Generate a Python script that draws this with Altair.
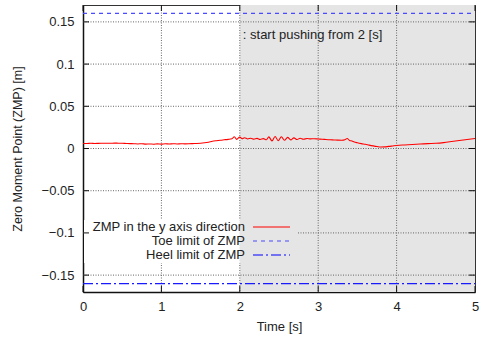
import altair as alt
import pandas as pd

# ZMP trajectory (time [s], ZMP y [m])
time_s = [0.00, 0.05, 0.10, 0.15, 0.20, 0.25, 0.30, 0.35, 0.40, 0.45, 0.50, 0.55, 0.60, 0.65,
          0.70, 0.75, 0.80, 0.85, 0.90, 0.95, 1.00, 1.05, 1.10, 1.15, 1.20, 1.25, 1.30, 1.35,
          1.40, 1.45, 1.50, 1.55, 1.60, 1.65, 1.70, 1.75, 1.80, 1.85, 1.90, 1.93, 1.96, 2.00,
          2.03, 2.06, 2.10, 2.14, 2.18, 2.22, 2.26, 2.30, 2.34, 2.37, 2.41, 2.45, 2.49, 2.53,
          2.57, 2.61, 2.65, 2.69, 2.73, 2.77, 2.81, 2.86, 2.90, 2.95, 3.00, 3.05, 3.10, 3.15,
          3.20, 3.25, 3.30, 3.34, 3.37, 3.40, 3.43, 3.46, 3.50, 3.55, 3.60, 3.65, 3.70, 3.75,
          3.80, 3.85, 3.90, 3.95, 4.00, 4.10, 4.20, 4.30, 4.40, 4.50, 4.60, 4.70, 4.80, 4.90, 5.00]
zmp_y = [0.0060, 0.0060, 0.0062, 0.0060, 0.0061, 0.0062, 0.0063, 0.0062, 0.0064, 0.0063, 0.0062,
         0.0060, 0.0058, 0.0057, 0.0054, 0.0057, 0.0052, 0.0054, 0.0051, 0.0055, 0.0052, 0.0056,
         0.0053, 0.0057, 0.0054, 0.0056, 0.0055, 0.0056, 0.0058, 0.0060, 0.0063, 0.0068, 0.0075,
         0.0085, 0.0092, 0.0098, 0.0103, 0.0108, 0.0115, 0.0140, 0.0108, 0.0135, 0.0115, 0.0128,
         0.0113, 0.0122, 0.0110, 0.0120, 0.0107, 0.0117, 0.0103, 0.0138, 0.0090, 0.0142, 0.0092,
         0.0140, 0.0097, 0.0132, 0.0102, 0.0126, 0.0106, 0.0122, 0.0110, 0.0118, 0.0114, 0.0116,
         0.0112, 0.0110, 0.0106, 0.0103, 0.0101, 0.0099, 0.0098, 0.0104, 0.0118, 0.0096, 0.0090,
         0.0078, 0.0068, 0.0058, 0.0050, 0.0040, 0.0031, 0.0023, 0.0017, 0.0019, 0.0025, 0.0030,
         0.0035, 0.0042, 0.0048, 0.0053, 0.0058, 0.0062, 0.0070, 0.0082, 0.0095, 0.0107, 0.0118]

toe_limit = 0.16
heel_limit = -0.16
push_start = 2.0
t_end = 5.0
x_ticks = [0, 1, 2, 3, 4, 5]
y_ticks = [-0.15, -0.1, -0.05, 0, 0.05, 0.1, 0.15]
legend_labels = ["ZMP in the y axis direction", "Toe limit of ZMP", "Heel limit of ZMP"]
legend_colors = ["#ff0000", "#4a4aff", "#0000ff"]
legend_dashes = [[1, 0], [4, 4], [10, 3, 2, 3]]
annotation = ": start pushing from 2 [s]"

FONT = "Liberation Sans"
W, H = 392, 287

xs = alt.Scale(domain=[0, 5], nice=False, zero=False)
ys = alt.Scale(domain=[-0.17, 0.17], nice=False, zero=False)

line_df = pd.DataFrame({"t": time_s, "z": zmp_y})
limits_df = pd.DataFrame({"t0": [0, 0], "t1": [t_end, t_end], "z": [toe_limit, heel_limit],
                          "kind": ["toe", "heel"]})
shade_df = pd.DataFrame({"a": [push_start], "b": [t_end]})
xg_df = pd.DataFrame({"v": x_ticks})
yg_df = pd.DataFrame({"v": y_ticks})
one = pd.DataFrame({"k": [0]})

x_axis = alt.Axis(title="Time [s]", values=x_ticks, format="d", labelAlign="center",
                  labelFlush=False, labelPadding=8, titlePadding=7, titleFontSize=13,
                  titleFontWeight="normal", labelFontWeight="normal")
y_axis = alt.Axis(title="Zero Moment Point (ZMP) [m]", values=y_ticks, format="~g",
                  labelPadding=9, titlePadding=17, titleFontSize=12.5,
                  titleFontWeight="normal", labelFontWeight="normal")

shade = alt.Chart(shade_df).mark_rect(color="#e5e5e5").encode(
    x=alt.X("a:Q", scale=xs, axis=x_axis),
    x2="b:Q",
    y=alt.value(0), y2=alt.value(H),
)

grid_style = dict(color="#666", strokeDash=[1, 1.5], strokeWidth=1)
xgrid = alt.Chart(xg_df).transform_filter("datum.v > 0 && datum.v < 5").mark_rule(**grid_style).encode(
    x=alt.X("v:Q", scale=xs, axis=x_axis), y=alt.value(0), y2=alt.value(H))
ygrid = alt.Chart(yg_df).mark_rule(**grid_style).encode(
    y=alt.Y("v:Q", scale=ys, axis=y_axis), x=alt.value(0), x2=alt.value(W))

# inward ticks
tick_style = dict(color="#111", strokeWidth=1)
yt_left = alt.Chart(yg_df).mark_rule(**tick_style).encode(
    y=alt.Y("v:Q", scale=ys, axis=y_axis), x=alt.value(0), x2=alt.value(6))
yt_right = alt.Chart(yg_df).mark_rule(**tick_style).encode(
    y=alt.Y("v:Q", scale=ys, axis=y_axis), x=alt.value(W - 6), x2=alt.value(W))
xt_bot = alt.Chart(xg_df).mark_rule(**tick_style).encode(
    x=alt.X("v:Q", scale=xs, axis=x_axis), y=alt.value(H - 6), y2=alt.value(H))
xt_top = alt.Chart(xg_df).mark_rule(**tick_style).encode(
    x=alt.X("v:Q", scale=xs, axis=x_axis), y=alt.value(0), y2=alt.value(6))

# legend box background (hides grid lines behind the key)
cover_white = alt.Chart(one).transform_calculate(p=str(push_start)).mark_rect(color="white").encode(
    x=alt.X("p:Q", scale=xs, axis=x_axis), x2=alt.value(1), y=alt.value(215), y2=alt.value(258))
cover_gray = alt.Chart(one).transform_calculate(p=str(push_start)).mark_rect(color="#e5e5e5").encode(
    x=alt.X("p:Q", scale=xs, axis=x_axis), x2=alt.value(215), y=alt.value(215), y2=alt.value(258))

toe = alt.Chart(limits_df).transform_filter("datum.kind == 'toe'").mark_rule(
    stroke="#4a4aff", strokeDash=[4, 4], strokeWidth=1.2).encode(
    x=alt.X("t0:Q", scale=xs, axis=x_axis), x2="t1:Q", y=alt.Y("z:Q", scale=ys, axis=y_axis))
heel = alt.Chart(limits_df).transform_filter("datum.kind == 'heel'").mark_rule(
    stroke="#1a1aff", strokeDash=[10, 3, 2, 3], strokeWidth=1.2).encode(
    x=alt.X("t0:Q", scale=xs, axis=x_axis), x2="t1:Q", y=alt.Y("z:Q", scale=ys, axis=y_axis))

zmp = alt.Chart(line_df).mark_line(stroke="#ff0000", strokeWidth=1.1, interpolate="monotone").encode(
    x=alt.X("t:Q", scale=xs, axis=x_axis), y=alt.Y("z:Q", scale=ys, axis=y_axis))

note = alt.Chart(pd.DataFrame({"t": [push_start], "z": [0.135], "s": [annotation]})).mark_text(
    align="left", baseline="middle", dx=3, fontSize=13, font=FONT, color="#222").encode(
    x=alt.X("t:Q", scale=xs, axis=x_axis), y=alt.Y("z:Q", scale=ys, axis=y_axis), text="s:N")

leg_rows = [222, 236, 250]
leg_layers = []
for lab, yy, col, dash in zip(legend_labels, leg_rows, legend_colors, legend_dashes):
    leg_layers.append(alt.Chart(pd.DataFrame({"s": [lab]})).mark_text(
        align="right", baseline="middle", fontSize=13, font=FONT, color="#222").encode(
        x=alt.value(162), y=alt.value(yy), text="s:N"))
    leg_layers.append(alt.Chart(one).mark_rule(stroke=col, strokeDash=dash, strokeWidth=1.2).encode(
        x=alt.value(170), x2=alt.value(207), y=alt.value(yy)))

chart = alt.layer(
    shade, xgrid, ygrid, cover_white, cover_gray, yt_left, yt_right, xt_bot, xt_top,
    toe, heel, zmp, note, *leg_layers
).properties(
    width=W, height=H,
    autosize=alt.AutoSizeParams(type="none"),
    padding={"left": 83, "top": 5, "right": 8, "bottom": 49},
    background="white",
).configure_view(
    stroke="#333", strokeWidth=1
).configure_axis(
    grid=False, ticks=False, domainColor="#111", domainWidth=1.5,
    labelFont=FONT, titleFont=FONT, labelFontSize=13, titleFontWeight="normal",
    labelColor="#222", titleColor="#222",
)

chart.save("out.html", embed_options={"renderer": "svg", "actions": False})
